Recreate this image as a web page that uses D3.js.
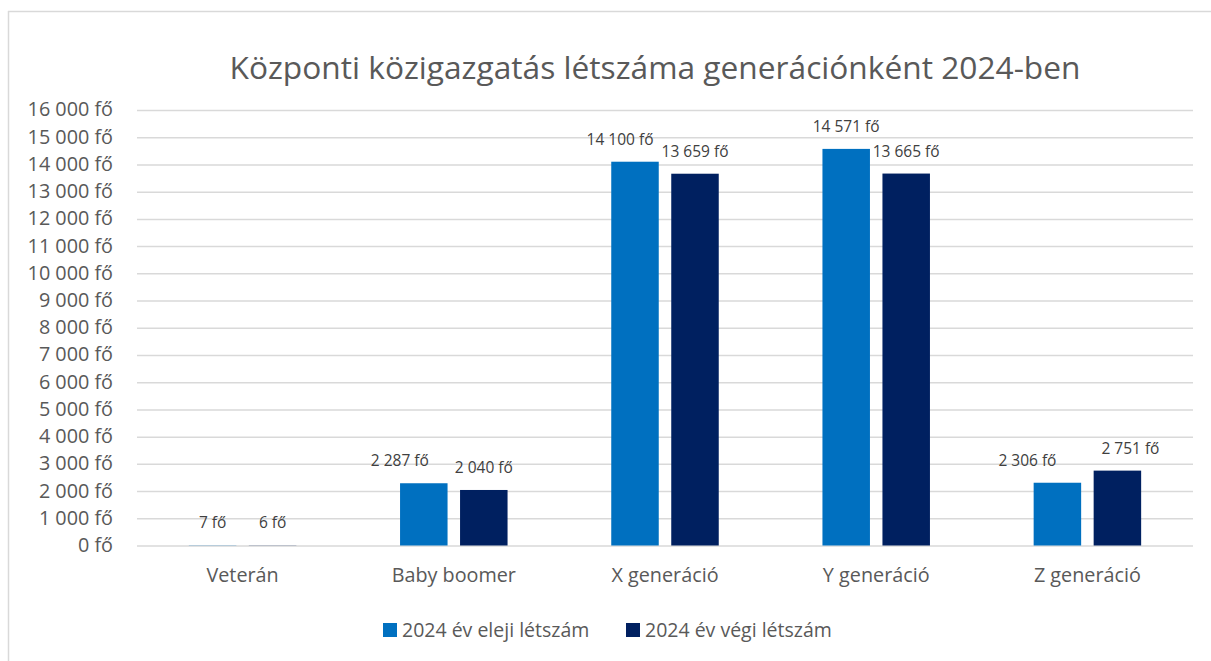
<!DOCTYPE html>
<html><head><meta charset="utf-8">
<script src="https://cdn.jsdelivr.net/npm/d3@7"></script>
<style>body{margin:0;background:#fff}svg{display:block}</style>
</head><body><svg id="c" width="1211" height="661"></svg>
<script>
const categories = ["Veterán","Baby boomer","X generáció","Y generáció","Z generáció"];
const seriesNames = ["2024 év eleji létszám","2024 év végi létszám"];
const startValues = [7, 2287, 14100, 14571, 2306];
const endValues = [6, 2040, 13659, 13665, 2751];
const yTicks = [0,1000,2000,3000,4000,5000,6000,7000,8000,9000,10000,11000,12000,13000,14000,15000,16000];
const title = "Központi közigazgatás létszáma generációnként 2024-ben";
// label nudges (manual placement in the original)
const labelDxStart = [0, -24, -15, 0, -30];
const labelDxEnd = [0, 0, 0, 0, 13];

const colors = ["#0070C0","#002060"];
const font = "'Open Sans', 'Noto Sans', sans-serif";
const svg = d3.select("#c");
const W=1211,H=661;
const m={l:137,r:1193,t:110,b:545.5};

svg.append("line").attr("x1",8.5).attr("x2",8.5).attr("y1",11).attr("y2",H).attr("stroke","#d9d9d9").attr("stroke-width",1.5);
svg.append("line").attr("x1",8).attr("x2",W).attr("y1",11.5).attr("y2",11.5).attr("stroke","#d9d9d9").attr("stroke-width",1.5);

const x = d3.scaleBand().domain(categories).range([m.l,m.r]);
const y = d3.scaleLinear().domain([0,16000]).range([m.b,m.t]);
const fmt = v => d3.format(",")(v).replace(/,/g," ") + " fő";

svg.append("text").attr("x",655).attr("y",79).attr("text-anchor","middle")
  .attr("font-family",font).attr("font-size",31.7).attr("fill","#595959").text(title);

const yAxis = svg.append("g").attr("transform",`translate(${m.l},0)`)
  .call(d3.axisLeft(y).tickValues(yTicks).tickSize(-(m.r-m.l)).tickPadding(24).tickFormat(fmt));
yAxis.select(".domain").remove();
yAxis.selectAll(".tick line").attr("stroke","#d9d9d9").attr("stroke-width",1.5);
yAxis.selectAll(".tick text").attr("font-family",font).attr("font-size",19.8).attr("fill","#595959").attr("dy","0.3em");

const xAxis = svg.append("g").attr("transform",`translate(0,${m.b})`)
  .call(d3.axisBottom(x).tickSize(0).tickPadding(22));
xAxis.select(".domain").remove();
xAxis.selectAll(".tick text").attr("font-family",font).attr("font-size",19.8).attr("fill","#595959");

const series=[startValues,endValues];
const dxs=[labelDxStart,labelDxEnd];
const bw=47.5, off=30;
series.forEach((vals,si)=>{
  const cx = (c)=> x(c)+x.bandwidth()/2 + (si===0?-off:off);
  svg.append("g").selectAll("rect").data(categories).join("rect")
    .attr("x",(c)=>cx(c)-bw/2).attr("width",bw)
    .attr("y",(c,i)=>y(vals[i])).attr("height",(c,i)=>y(0)-y(vals[i]))
    .attr("fill",colors[si]);
  svg.append("g").selectAll("text").data(categories).join("text")
    .attr("x",(c,i)=>cx(c)+dxs[si][i]).attr("y",(c,i)=>y(vals[i])-17)
    .attr("text-anchor","middle").attr("font-family",font).attr("font-size",15.5).attr("fill","#404040")
    .text((c,i)=>fmt(vals[i]));
});

const leg = svg.append("g");
const legX=[383,626];
seriesNames.forEach((n,i)=>{
  leg.append("rect").attr("x",legX[i]).attr("y",623).attr("width",14).attr("height",14).attr("fill",colors[i]);
  leg.append("text").attr("x",legX[i]+19).attr("y",637).attr("font-family",font).attr("font-size",19.5).attr("fill","#595959").text(n);
});
</script></body></html>
